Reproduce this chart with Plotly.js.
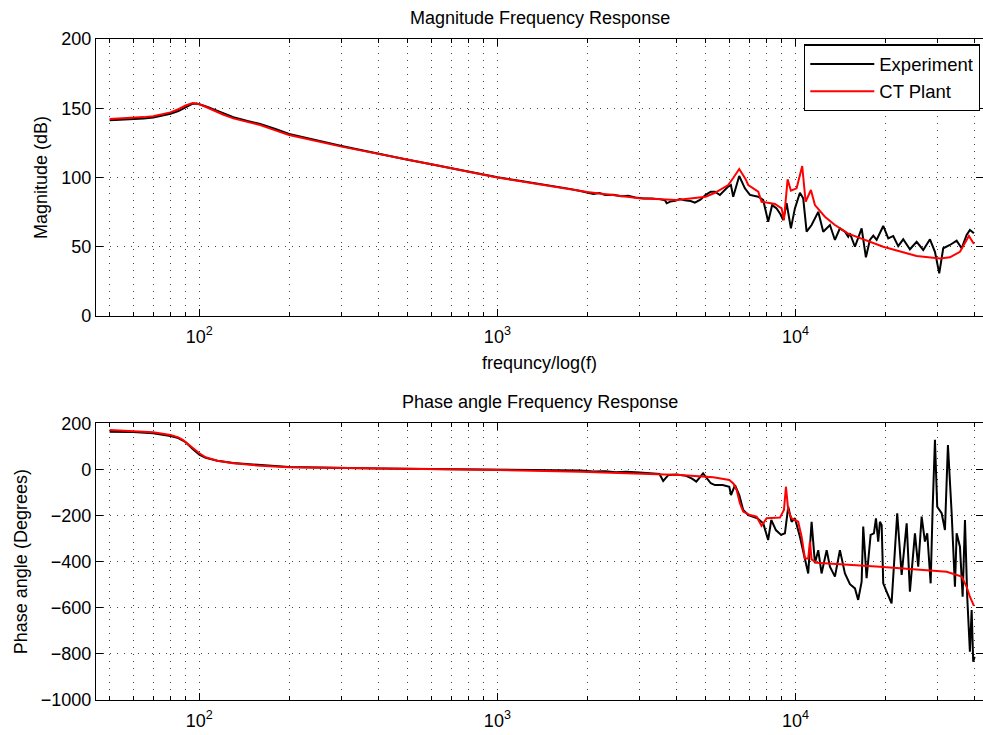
<!DOCTYPE html>
<html>
<head>
<meta charset="utf-8">
<script src="https://cdn.plot.ly/plotly-3.0.1.min.js"></script>
<style>html,body{margin:0;padding:0;background:#fff;}#chart{width:983px;height:735px;}</style>
</head>
<body>
<div id="chart"></div>
<script>
// ---- Data ----
// Magnitude (dB) - Experiment
const magExpFreq = [50,55,60,65,70,75,80,85,90,95,98,100,103,107,112,120,130,145,160,180,200,300,400,500,600,800,1000,1200,1400,1600,1750,1900,2000,2100,2200,2300,2450,2600,2750,2900,3100,3300,3500,3650,3700,3800,3950,4100,4250,4450,4600,4800,5000,5200,5370,5580,5950,6076,6184,6478,6768,7036,7504,7796,8103,8357,8648,8872,9101,9343,9658,9961,10354,10621,10904,11332,11928,12399,13057,13570,14103,14660,15040,15240,15840,16680,17240,17780,18250,18730,19710,20490,21290,22130,23000,24220,25510,26850,28280,29390,30380,31330,33000,34750,36120,37540,38500,39720];
const magExp = [141.3,141.6,142,142.6,143.3,144.5,146,148,150.8,153.3,153.4,153,152,150.8,149,146.2,143.5,140.8,138.7,135,131.5,122.8,117,112.8,109.5,104.3,100.2,97.5,95.3,93.5,91.8,90.3,89.2,88.2,88.8,87.4,87.6,86.4,86.8,85.6,84.8,84.9,84.4,83.6,81.4,82.6,83.2,84.4,83.5,83.0,81.8,84.0,87.5,89.8,89.8,87.4,93.4,94.6,86.1,101.1,92.2,87.4,86.1,83.8,68.1,80.1,77.7,74.1,69.3,81.4,63.3,77.7,89,85,60.9,65.7,75.2,60.9,65.7,54.9,63.3,60.9,57.3,59.7,50,63.3,42.4,54.9,58,54.9,65,56.1,57.8,50.5,55.4,48.2,53.6,47.7,55.4,46.4,30.8,48.9,51.3,54.4,48.9,58.5,62.1,59.7];

// Magnitude (dB) - CT Plant
const magFitFreq = [50,55,60,65,70,75,80,85,90,95,98,100,103,107,112,120,130,145,160,180,200,300,400,500,600,800,1000,2000,3000,4000,5000,5370,5950,6200,6478,6800,6945,7504,7701,8535,8989,9151,9415,9658,10093,10539,10820,11272,11628,12560,13570,15040,19710,25510,30540,33000,35650,37540,38210,39720];
const magFit = [142.2,142.6,143.1,143.6,144.3,145.5,147,149.3,152,153.8,153.6,153,151.8,150.2,148.3,145.5,142.7,140,137.9,134,130.7,122.3,116.8,112.6,109.5,104.2,100,89.5,85,83.8,86.1,89,94.6,100,106.1,99,94.6,89.8,82.5,80.9,77.7,69.3,98.7,90.5,92.2,108.3,82.5,91,80.1,71.7,65.7,59.5,50,43.3,41.6,42.4,46.4,54.9,57.8,52];

// Phase angle (degrees) - Experiment
const phExpFreq = [50,60,70,80,85,90,95,100,105,110,115,130,160,200,400,1000,1200,1500,1700,1900,2100,2300,2500,2700,3000,3300,3500,3600,3750,4000,4300,4500,4650,4900,5200,5370,5700,6000,6080,6270,6480,6680,6950,7460,7800,8100,8300,8600,8950,9222,9459,9710,9961,10354,10760,11040,11332,11628,11928,12240,12730,13057,13570,14103,14660,15240,15840,16240,16680,16886,17330,17880,18340,18630,18960,19210,19470,19710,20230,21020,21960,22720,23620,24220,25180,25830,26520,27200,27690,28430,28870,29390,29910,30950,31750,32490,33440,34300,34750,35650,36400,37060,37710,38500,39020,39500,39930];
const phExp = [163.6,162,157,145,136,118,88,64,50,43,38,28,18,10,4,-2,-4,-3,-7,-5,-9,-8,-12,-10,-13,-16,-20,-50,-24,-22,-28,-40,-53,-17,-60,-68,-68,-75,-111,-68,-111,-176,-198,-212,-234,-306,-219,-263,-284,-277,-162,-227,-212,-292,-393,-451,-227,-407,-350,-451,-350,-422,-465,-350,-451,-498,-516,-566,-487,-248,-472,-284,-277,-212,-313,-227,-241,-494,-530,-581,-190,-458,-234,-530,-277,-422,-205,-313,-277,-494,-169,128,-162,-190,-263,106,-190,-509,-277,-335,-552,-219,-552,-791,-610,-834,-812];

// Phase angle (degrees) - CT Plant
const phFitFreq = [50,60,70,80,85,88,92,95,100,105,110,115,130,160,200,400,1000,1900,3000,4100,5300,6000,6200,6350,6513,6680,7036,7410,7701,8006,8872,9151,9293,9459,9710,10217,10490,10760,11040,11186,11332,11780,19210,32170,36120,37540,38500,39720];
const phFit = [171,167,161,149,139,128,108,92,70,52.5,44,38,26.5,16,9,5,-3,-10,-17,-24,-34,-46,-62,-89,-147,-183,-198,-205,-245,-212,-209,-176,-75,-176,-212,-227,-292,-386,-386,-313,-390,-405,-422,-444,-465,-509,-552,-592];

// Labels
const seriesNames = ['Experiment', 'CT Plant'];
const xTickVals = [100, 1000, 10000];
const xTickText = ['10<sup>2</sup>', '10<sup>3</sup>', '10<sup>4</sup>'];
const xMinorVals = [50,60,70,80,90,200,300,400,500,600,700,800,900,2000,3000,4000,5000,6000,7000,8000,9000,20000,30000,40000];
const magTicks = [0, 50, 100, 150, 200];
const phTicks = [-1000, -800, -600, -400, -200, 0, 200];

// ---- Styling ----
const FONT = 'Liberation Sans, Arial, Helvetica, sans-serif';
const GRID = '#444';
const DASH = '1px,6px';

function xAxis(anchor, withTitle) {
  const a = {
    type: 'log', range: [Math.log10(45), Math.log10(42600)], anchor: anchor,
    tickmode: 'array', tickvals: xTickVals, ticktext: xTickText,
    showline: true, linecolor: '#000', linewidth: 1.3, mirror: 'ticks',
    ticks: 'inside', ticklen: 7, tickcolor: '#000', tickwidth: 1,
    ticklabelstandoff: 4,
    showgrid: true, gridcolor: GRID, griddash: DASH, gridwidth: 1,
    minor: { tickmode: 'array', tickvals: xMinorVals, ticks: 'inside', ticklen: 4, tickcolor: '#000',
             showgrid: true, gridcolor: GRID, griddash: DASH, gridwidth: 1 },
    tickfont: { family: FONT, size: 18, color: '#000' },
    zeroline: false, automargin: false, fixedrange: true
  };
  if (withTitle) {
    a.title = { text: 'frequncy/log(f)', font: { family: FONT, size: 18, color: '#000' }, standoff: 10 };
  }
  return a;
}
function yAxis(anchor, domain, range, ticks, title, standoff) {
  return {
    domain: domain, anchor: anchor, range: range,
    tickmode: 'array', tickvals: ticks,
    showline: true, linecolor: '#000', linewidth: 1.3, mirror: 'ticks',
    ticks: 'inside', ticklen: 7, tickcolor: '#000',
    showgrid: true, gridcolor: GRID, griddash: DASH, gridwidth: 1,
    tickfont: { family: FONT, size: 18, color: '#000' },
    title: { text: title, font: { family: FONT, size: 18, color: '#000' }, standoff: standoff },
    zeroline: false, automargin: false, fixedrange: true
  };
}

const traces = [
  { x: magExpFreq, y: magExp, xaxis: 'x', yaxis: 'y', mode: 'lines', name: seriesNames[0],
    line: { color: '#000', width: 2 } },
  { x: magFitFreq, y: magFit, xaxis: 'x', yaxis: 'y', mode: 'lines', name: seriesNames[1],
    line: { color: '#ff0000', width: 2 } },
  { x: phExpFreq, y: phExp, xaxis: 'x2', yaxis: 'y2', mode: 'lines', name: seriesNames[0],
    line: { color: '#000', width: 2 }, showlegend: false },
  { x: phFitFreq, y: phFit, xaxis: 'x2', yaxis: 'y2', mode: 'lines', name: seriesNames[1],
    line: { color: '#ff0000', width: 2 }, showlegend: false }
];

const layout = {
  width: 983, height: 735,
  margin: { l: 96, r: 0, t: 39, b: 35 },
  paper_bgcolor: '#fff', plot_bgcolor: '#fff',
  font: { family: FONT, size: 18, color: '#000' },
  showlegend: true,
  legend: {
    x: 0.9966, y: 0.992, xanchor: 'right', yanchor: 'top',
    bgcolor: '#fff', bordercolor: '#000', borderwidth: 1.3,
    font: { family: FONT, size: 18.5, color: '#000' },
    itemwidth: 64, tracegroupgap: 0
  },
  xaxis: xAxis('y', true),
  yaxis: yAxis('x', [0.5809, 1], [0, 200], magTicks, 'Magnitude (dB)', 8),
  xaxis2: xAxis('y2', false),
  yaxis2: yAxis('x2', [0, 0.4186], [-1000, 200], phTicks, 'Phase angle (Degrees)', 8),
  annotations: [
    { text: 'Magnitude Frequency Response', xref: 'paper', yref: 'paper', x: 0.5, y: 1.0318,
      xanchor: 'center', yanchor: 'middle', showarrow: false, font: { family: FONT, size: 18, color: '#000' } },
    { text: 'Phase angle Frequency Response', xref: 'paper', yref: 'paper', x: 0.5, y: 0.4513,
      xanchor: 'center', yanchor: 'middle', showarrow: false, font: { family: FONT, size: 18, color: '#000' } }
  ]
};

Plotly.newPlot('chart', traces, layout, { displayModeBar: false });
</script>
</body>
</html>
